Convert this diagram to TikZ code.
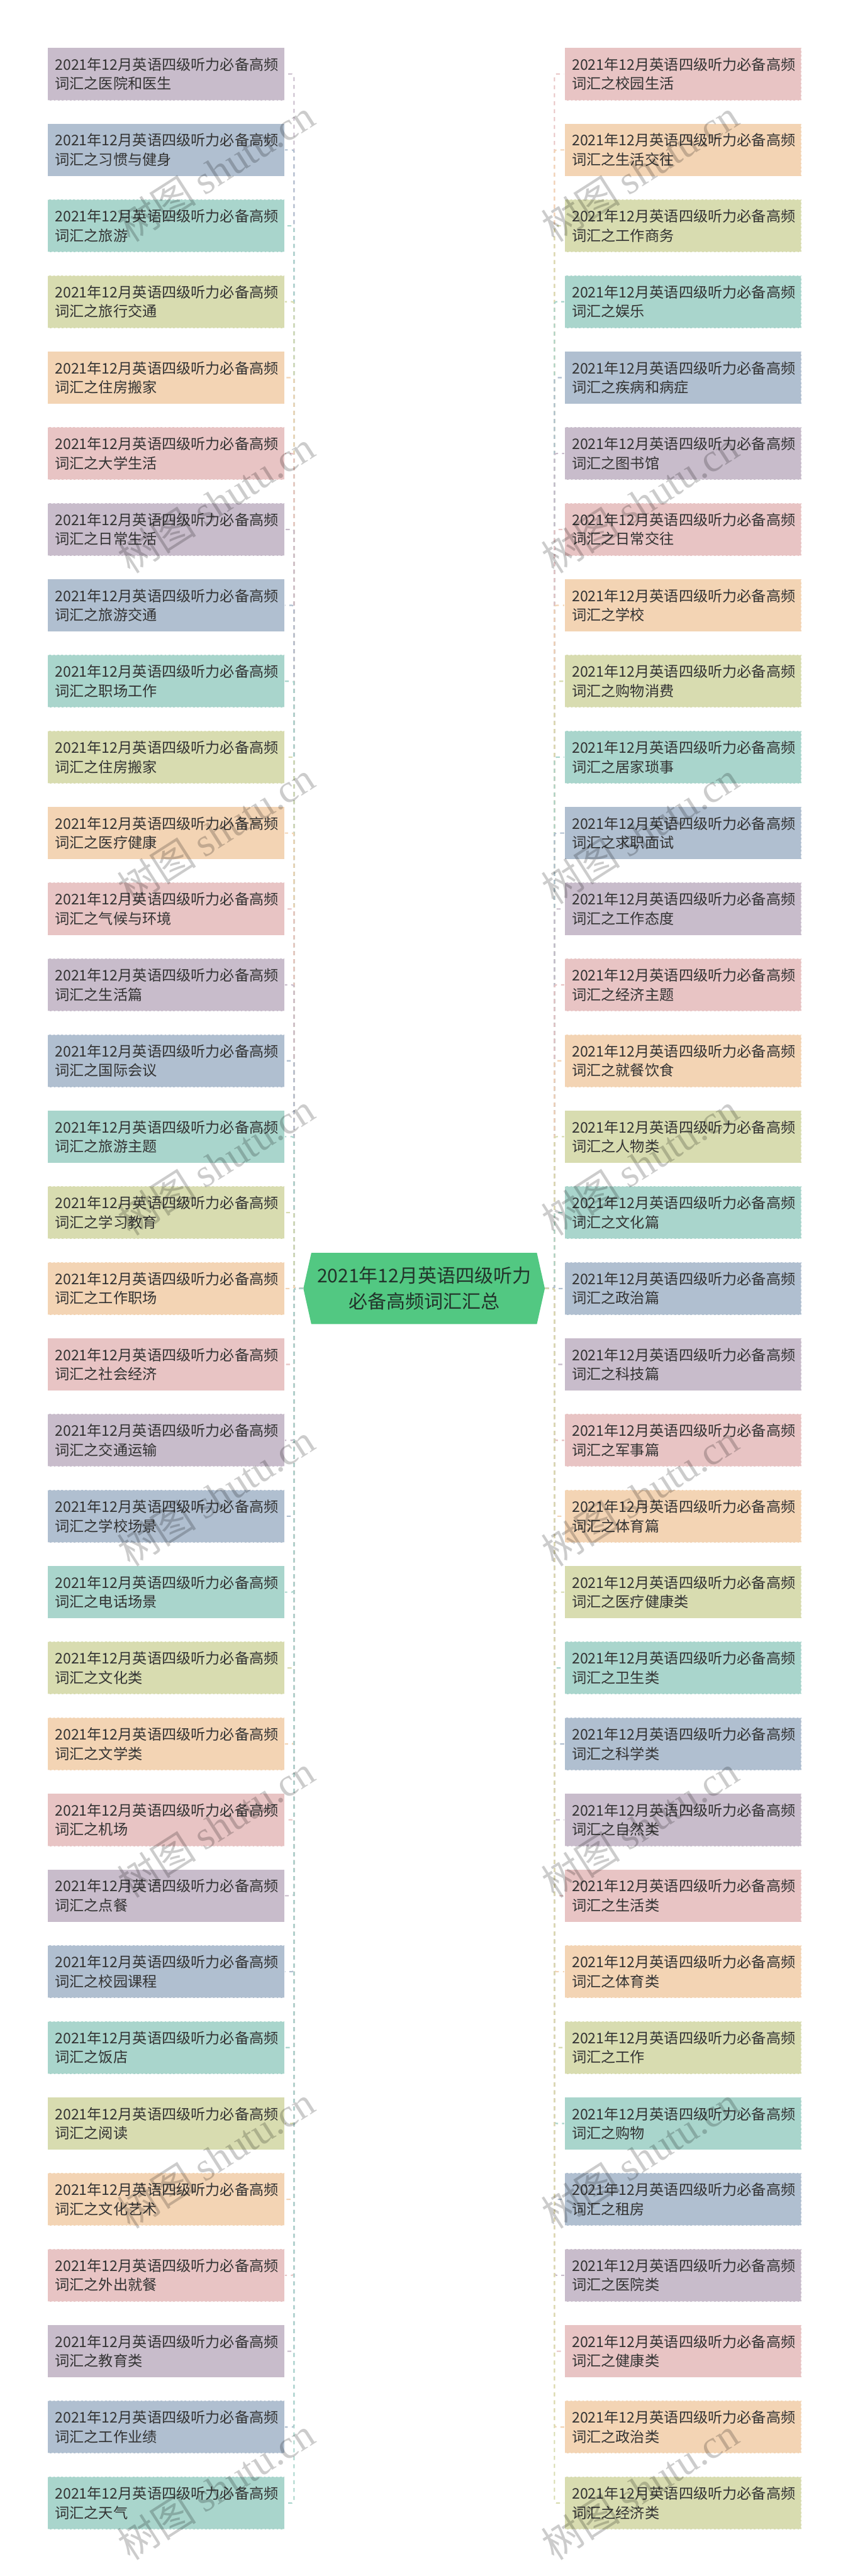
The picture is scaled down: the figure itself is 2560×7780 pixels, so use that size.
\documentclass[tikz,border=0pt]{standalone}
\usepackage{fontspec}
\setmainfont{Noto Sans CJK SC}
\newfontfamily\wmfont{Liberation Serif}
\definecolor{cpurple}{HTML}{C8BCCB}
\definecolor{cblue}{HTML}{B0BFD0}
\definecolor{cteal}{HTML}{A9D5CC}
\definecolor{cyg}{HTML}{D8DCB0}
\definecolor{corange}{HTML}{F3D4B4}
\definecolor{cpink}{HTML}{E8C4C4}
\definecolor{cgreen}{HTML}{52C882}
\definecolor{textdark}{HTML}{333333}
\definecolor{ctext}{HTML}{22332A}
\tikzset{
  leaf/.style={rectangle, fill=#1, draw=white, draw opacity=0.7, line width=2.5pt,
    dash pattern=on 7pt off 5pt, minimum width=715pt, minimum height=159pt,
    inner xsep=22pt, inner ysep=0pt, text width=671pt, align=left, text=textdark,
    font=\fontsize{44}{58}\selectfont},
  centernode/.style={rectangle, fill=white, minimum width=729pt, minimum height=215pt,
    align=center, text=ctext, font=\fontsize{57}{77}\selectfont,
    path picture={\fill[cgreen] ([xshift=24pt]path picture bounding box.north west)
      -- ([xshift=-24pt]path picture bounding box.north east)
      -- (path picture bounding box.east)
      -- ([xshift=-24pt]path picture bounding box.south east)
      -- ([xshift=24pt]path picture bounding box.south west)
      -- (path picture bounding box.west) -- cycle;}},
  conn/.style={line width=4pt, dash pattern=on 12pt off 12pt, rounded corners=6pt},
  wm/.style={rotate=32.6, text=black, text opacity=0.2, inner sep=0pt,
    font=\fontsize{120}{120}\selectfont}
}
\begin{document}
\begin{tikzpicture}[x=1pt,y=-1pt]
\useasboundingbox (0,0) rectangle (2560,7780);
\fill[white] (0,0) rectangle (2560,7780);
\def\leftcols{{"cpurple","cblue","cteal","cyg","corange","cpink"}}
\def\rightcols{{"cpink","corange","cyg","cteal","cblue","cpurple"}}
\node[centernode] (c) at (1280.5,3891.5) {2021年12月英语四级听力\\必备高频词汇汇总};
\foreach \t [count=\i] in {医院和医生,习惯与健身,旅游,旅行交通,住房搬家,大学生活,日常生活,旅游交通,职场工作,住房搬家,医疗健康,气候与环境,生活篇,国际会议,旅游主题,学习教育,工作职场,社会经济,交通运输,学校场景,电话场景,文化类,文学类,机场,点餐,校园课程,饭店,阅读,文化艺术,外出就餐,教育类,工作业绩,天气}{
  \pgfmathsetmacro\yy{223.5+229.25*(\i-1)}
  \pgfmathsetmacro\col{\leftcols[int(mod(\i-1,6))]}
  \node[leaf=\col] (L\i) at (501.5,\yy) {2021年12月英语四级听力必备高频\\词汇之\t};
}
\foreach \t [count=\i] in {校园生活,生活交往,工作商务,娱乐,疾病和病症,图书馆,日常交往,学校,购物消费,居家琐事,求职面试,工作态度,经济主题,就餐饮食,人物类,文化篇,政治篇,科技篇,军事篇,体育篇,医疗健康类,卫生类,科学类,自然类,生活类,体育类,工作,购物,租房,医院类,健康类,政治类,经济类}{
  \pgfmathsetmacro\yy{223.5+229.25*(\i-1)}
  \pgfmathsetmacro\col{\rightcols[int(mod(\i-1,6))]}
  \node[leaf=\col] (R\i) at (2062.5,\yy) {2021年12月英语四级听力必备高频\\词汇之\t};
}
\foreach \i in {1,...,33}{
  \pgfmathsetmacro\col{\leftcols[int(mod(\i-1,6))]}
  \draw[conn, draw=\col] (c.west) -- ++(-28,0) |- (L\i.east);
  \pgfmathsetmacro\colr{\rightcols[int(mod(\i-1,6))]}
  \draw[conn, draw=\colr] (c.east) -- ++(29,0) |- (R\i.west);
}
\foreach \k in {0,...,7}{
  \node[wm] (wl\k) at (652,516+1000*\k) {树图 {\wmfont shutu.cn}};
  \node[wm] (wr\k) at (1932,516+1000*\k) {树图 {\wmfont shutu.cn}};
}
\end{tikzpicture}
\end{document}
